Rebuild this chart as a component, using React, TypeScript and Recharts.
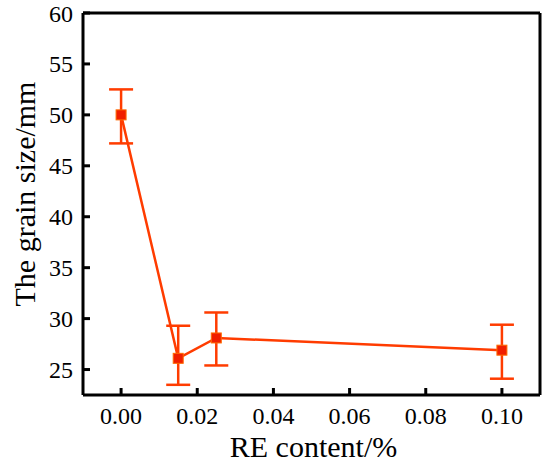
import { LineChart, Line, XAxis, YAxis, ErrorBar, ReferenceLine } from 'recharts';

const reContent = [0, 0.015, 0.025, 0.1];
const grainSize = [50, 26.1, 28.1, 26.9];
const errLow = [2.8, 2.6, 2.7, 2.8];
const errHigh = [2.5, 3.2, 2.5, 2.5];

const xMajor = [0, 0.02, 0.04, 0.06, 0.08, 0.1];
const xMinor = [0.01, 0.03, 0.05, 0.07, 0.09];
const yMajor = [25, 30, 35, 40, 45, 50, 55, 60];
const yMinor = [27.5, 32.5, 37.5, 42.5, 47.5, 52.5, 57.5];
const xDomain: [number, number] = [-0.01, 0.11];
const yDomain: [number, number] = [22.5, 60];

const data = reContent.map((x, i) => ({
  x,
  size: grainSize[i],
  err: [errLow[i], errHigh[i]],
}));

const FONT = 'Liberation Serif';
const ORANGE = '#ff3c00';
const tickFont = { fontFamily: FONT, fontSize: 24, fill: '#000' };
const tickStroke = { stroke: '#000', strokeWidth: 3 };

function Square({ cx, cy }: any) {
  if (cx == null || cy == null) return null;
  return <rect x={cx - 5} y={cy - 5} width={10} height={10} fill="#f01e00" stroke="#ff6a00" strokeWidth={1} />;
}

export default function App() {
  return (
    <div style={{ position: 'absolute', left: 0, top: 0, background: '#fff' }}>
      <LineChart width={550} height={468} data={data} margin={{ top: 13, right: 10, left: 0, bottom: 0 }}>
        <XAxis
          xAxisId="minor"
          type="number"
          domain={xDomain}
          allowDataOverflow
          ticks={xMinor}
          interval={0}
          mirror
          height={0}
          tickSize={4}
          tick={false}
          tickLine={tickStroke}
          axisLine={false}
        />
        <YAxis
          yAxisId="minor"
          type="number"
          domain={yDomain}
          allowDataOverflow
          ticks={yMinor}
          interval={0}
          mirror
          width={0}
          tickSize={4}
          tick={false}
          tickLine={tickStroke}
          axisLine={false}
        />
        <XAxis
          type="number"
          dataKey="x"
          domain={xDomain}
          allowDataOverflow
          ticks={xMajor}
          interval={0}
          height={73}
          tickSize={-7}
          tickMargin={19}
          tickLine={tickStroke}
          tick={tickFont}
          tickFormatter={(v: number) => v.toFixed(2)}
          axisLine={{ stroke: '#000', strokeWidth: 3 }}
          label={{
            content: ({ viewBox }: any) => (
              <text
                x={viewBox.x + viewBox.width / 2 + 2}
                y={viewBox.y + 62}
                textAnchor="middle"
                style={{ fontFamily: FONT, fontSize: 30 }}
                fill="#000"
              >
                RE content/%
              </text>
            ),
          }}
        />
        <YAxis
          type="number"
          domain={yDomain}
          allowDataOverflow
          ticks={yMajor}
          interval={0}
          width={83}
          tickSize={-7}
          tickMargin={17}
          tickLine={tickStroke}
          tick={tickFont}
          axisLine={{ stroke: '#000', strokeWidth: 3 }}
          label={{
            content: ({ viewBox }: any) => {
              const cx = 24;
              const cy = viewBox.y + viewBox.height / 2 - 10;
              return (
                <text
                  x={cx}
                  y={cy}
                  dy="0.35em"
                  transform={`rotate(-90, ${cx}, ${cy})`}
                  textAnchor="middle"
                  style={{ fontFamily: FONT, fontSize: 30 }}
                  fill="#000"
                >
                  The grain size/mm
                </text>
              );
            },
          }}
        />
        <ReferenceLine y={yDomain[1]} stroke="#000" strokeWidth={3} />
        <ReferenceLine x={xDomain[1]} stroke="#000" strokeWidth={3} />
        <Line
          type="linear"
          dataKey="size"
          stroke={ORANGE}
          strokeWidth={2.5}
          dot={<Square />}
          activeDot={false}
          isAnimationActive={false}
        >
          <ErrorBar dataKey="err" direction="y" width={12} stroke={ORANGE} strokeWidth={2.5} />
        </Line>
      </LineChart>
    </div>
  );
}
